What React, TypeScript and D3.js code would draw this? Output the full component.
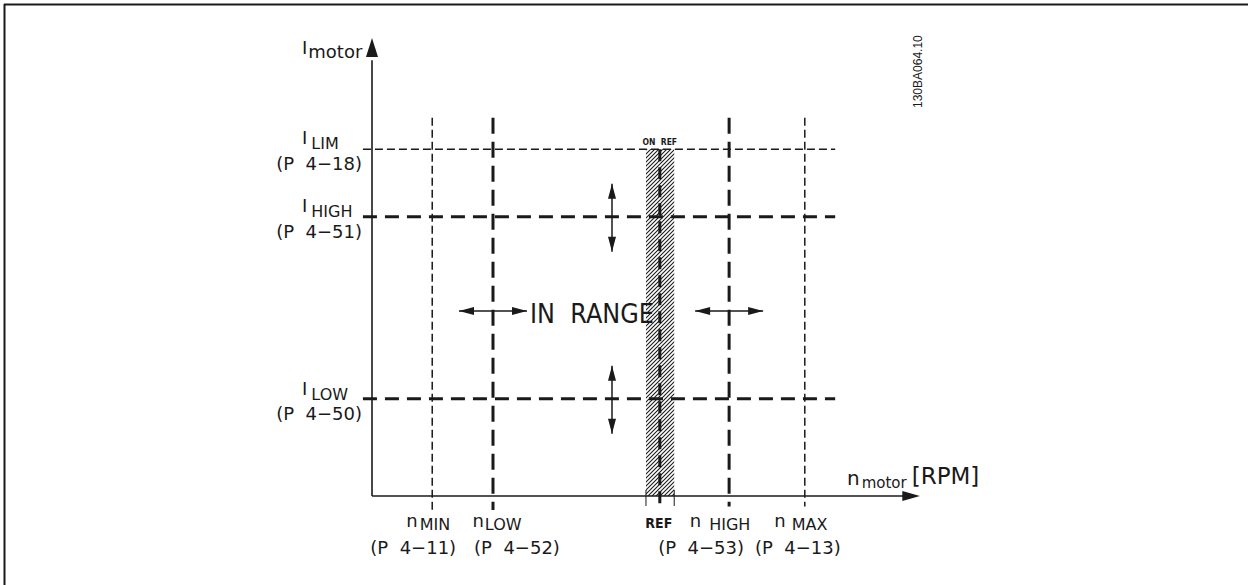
import { useEffect, useRef } from "react";
import * as d3 from "d3";

// current thresholds (y axis, % of axis height)
const currentNames = ["LIM", "HIGH", "LOW"];
const currentValues = [76.4, 61.5, 21.4];
const currentParams = ["(P  4−18)", "(P  4−51)", "(P  4−50)"];

// speed thresholds (x axis, % of axis width)
const speedNames = ["MIN", "LOW", "REF", "HIGH", "MAX"];
const speedValues = [11.3, 22.7, 54.0, 67.0, 81.2];
const speedParams = ["(P  4−11)", "(P  4−52)", "", "(P  4−53)", "(P  4−13)"];
const refBand = [51.4, 56.7];

const W = 1248;
const H = 585;
const FONT = "'DejaVu Sans', sans-serif";
const COND = "'DejaVu Sans Condensed', 'DejaVu Sans', sans-serif";
const INK = "#1a1a1a";

export default function App() {
  const svgRef = useRef<SVGSVGElement>(null);

  useEffect(() => {
    document.body.style.margin = "0";
    if (!svgRef.current) return;
    const svg = d3.select(svgRef.current);
    svg.selectAll("*").remove();

    const x = d3.scaleLinear().domain([0, 100]).range([372, 905]);
    const y = d3.scaleLinear().domain([0, 100]).range([496, 42]);

    // frame
    svg.append("line").attr("x1", 4).attr("x2", W).attr("y1", 4.5).attr("y2", 4.5)
      .attr("stroke", INK).attr("stroke-width", 2);
    svg.append("line").attr("x1", 4.5).attr("x2", 4.5).attr("y1", 4).attr("y2", H)
      .attr("stroke", INK).attr("stroke-width", 2);

    const defs = svg.append("defs");
    const pat = defs.append("pattern").attr("id", "hatch")
      .attr("patternUnits", "userSpaceOnUse").attr("width", 4).attr("height", 4);
    pat.append("path").attr("d", "M-1,1 l2,-2 M0,4 l4,-4 M3,5 l2,-2")
      .attr("stroke", INK).attr("stroke-width", 1.1);

    const thin = "8,4";
    const thick = "14,8";
    const thickSet = new Set(["HIGH", "LOW", "REF"]);

    // ref band
    svg.append("rect")
      .attr("x", x(refBand[0])).attr("width", x(refBand[1]) - x(refBand[0]))
      .attr("y", y(currentValues[0])).attr("height", y(0) - y(currentValues[0]))
      .attr("fill", "url(#hatch)");
    refBand.forEach((v) => {
      svg.append("line").attr("x1", x(v)).attr("x2", x(v))
        .attr("y1", y(0) - 6).attr("y2", y(-2.2))
        .attr("stroke", INK).attr("stroke-width", 1);
    });

    // horizontal current lines
    currentNames.forEach((n, i) => {
      const th = thickSet.has(n);
      svg.append("line")
        .attr("x1", x(-1.7)).attr("x2", x(86.9))
        .attr("y1", y(currentValues[i])).attr("y2", y(currentValues[i]))
        .attr("stroke", INK)
        .attr("stroke-width", th ? 3 : 1.5)
        .attr("stroke-dasharray", th ? thick : thin);
    });

    // vertical speed lines
    speedNames.forEach((n, i) => {
      const th = thickSet.has(n);
      const top = n === "REF" ? currentValues[0] : 83.3;
      const bot = n === "MIN" || n === "LOW" ? -3.1 : -2.3;
      svg.append("line")
        .attr("x1", x(speedValues[i])).attr("x2", x(speedValues[i]))
        .attr("y1", y(top)).attr("y2", y(bot))
        .attr("stroke", INK)
        .attr("stroke-width", th ? 3 : 1.5)
        .attr("stroke-dasharray", n === "REF" ? "12,6" : th ? "16,8" : thin);
    });

    // axes
    svg.append("line").attr("x1", x(0)).attr("x2", x(0))
      .attr("y1", y(0)).attr("y2", y(96)).attr("stroke", INK).attr("stroke-width", 1.6);
    svg.append("line").attr("x1", x(0)).attr("x2", x(100))
      .attr("y1", y(0)).attr("y2", y(0)).attr("stroke", INK).attr("stroke-width", 1.6);
    svg.append("path")
      .attr("d", `M${x(0)},${y(100.9)} L${x(0) - 6},${y(96.7)} L${x(0) + 6},${y(96.7)} Z`)
      .attr("fill", INK);
    svg.append("path")
      .attr("d", `M${x(102.8)},${y(0)} L${x(99.5)},${y(0) - 5} L${x(99.5)},${y(0) + 5} Z`)
      .attr("fill", INK);

    // double arrows
    const arrow = (x1: number, y1: number, x2: number, y2: number) => {
      const g = svg.append("g");
      g.append("line").attr("x1", x1).attr("y1", y1).attr("x2", x2).attr("y2", y2)
        .attr("stroke", INK).attr("stroke-width", 1.5);
      const ang = Math.atan2(y2 - y1, x2 - x1);
      const head = (px: number, py: number, a: number) => {
        const L = 15, w = 4;
        const bx = px - L * Math.cos(a), by = py - L * Math.sin(a);
        const nx = -Math.sin(a) * w, ny = Math.cos(a) * w;
        g.append("path")
          .attr("d", `M${px},${py} L${bx + nx},${by + ny} L${bx - nx},${by - ny} Z`)
          .attr("fill", INK);
      };
      head(x2, y2, ang);
      head(x1, y1, ang + Math.PI);
    };
    const midY = 311;
    [1, 3].forEach((i) => {
      const cx = x(speedValues[i]);
      arrow(cx - 34, midY, cx + 34, midY);
    });
    [1, 2].forEach((i) => {
      const cy = y(currentValues[i]);
      arrow(612, cy - 33, 612, cy + 35);
    });

    // IN RANGE
    svg.append("text").attr("x", 530).attr("y", midY + 12)
      .attr("font-family", FONT).attr("font-size", 26)
      .attr("fill", INK)
      .attr("textLength", 124).attr("lengthAdjust", "spacingAndGlyphs")
      .style("white-space", "pre").text("IN  RANGE");

    // y labels
    const iSub = (tx: number, ty: number, sub: string, dx: number, subDy: number, subSize: number) => {
      const t = svg.append("text").attr("x", tx).attr("y", ty)
        .attr("font-family", FONT).attr("fill", INK).style("white-space", "pre");
      t.append("tspan").attr("font-size", 18).text("I");
      t.append("tspan").attr("font-size", subSize).attr("dx", dx).attr("dy", subDy).text(sub);
    };
    iSub(302, 54, "motor", 1, 4, 18);
    const iLabelDy: Record<string, number> = { LIM: -5, HIGH: -5, LOW: -4 };
    currentNames.forEach((n, i) => {
      const cy = y(currentValues[i]);
      iSub(302, cy + iLabelDy[n], n, 4, 5, 16);
      svg.append("text").attr("x", 362).attr("y", cy + 21)
        .attr("text-anchor", "end").attr("font-family", FONT).attr("font-size", 18)
        .attr("fill", INK).style("white-space", "pre").text(currentParams[i]);
    });

    // x labels
    const off: Record<string, { n: number; p: number; gap: number }> = {
      MIN: { n: -4, p: -19, gap: 2 },
      LOW: { n: 4, p: 24, gap: 1 },
      HIGH: { n: -9, p: -28, gap: 8 },
      MAX: { n: -4, p: -7, gap: 6 },
    };
    speedNames.forEach((n, i) => {
      const cx = x(speedValues[i]);
      if (n === "REF") {
        svg.append("text").attr("x", cx - 1).attr("y", y(0) + 32)
          .attr("text-anchor", "middle").attr("font-family", COND)
          .attr("font-weight", "bold").attr("font-size", 14).attr("fill", INK).text("REF");
        return;
      }
      const o = off[n];
      const t = svg.append("text").attr("x", cx + o.n).attr("y", y(0) + 31)
        .attr("text-anchor", "middle").attr("font-family", FONT).attr("fill", INK);
      t.append("tspan").attr("font-size", 18).text("n");
      t.append("tspan").attr("font-size", 16).attr("dx", o.gap).attr("dy", 3).text(n);
      svg.append("text").attr("x", cx + o.p).attr("y", y(0) + 58)
        .attr("text-anchor", "middle").attr("font-family", FONT).attr("font-size", 18)
        .attr("fill", INK).style("white-space", "pre").text(speedParams[i]);
    });

    // ON REF
    svg.append("text").attr("x", x(speedValues[2])).attr("y", y(currentValues[0]) - 4)
      .attr("text-anchor", "middle").attr("font-family", COND)
      .attr("font-weight", "bold").attr("font-size", 8.5).attr("fill", INK)
      .style("white-space", "pre").text("ON  REF");

    // n motor [RPM]
    const nm = svg.append("text").attr("x", 847).attr("y", 485)
      .attr("font-family", FONT).attr("fill", INK);
    nm.append("tspan").attr("font-size", 20).text("n");
    nm.append("tspan").attr("font-size", 15).attr("dx", 2).attr("dy", 3).text("motor");
    nm.append("tspan").attr("font-size", 23).attr("dx", 5).attr("dy", -4).text("[RPM]");

    // drawing number
    svg.append("text")
      .attr("transform", "translate(922,108) rotate(-90)")
      .attr("font-family", "'Liberation Sans', Arial, sans-serif")
      .attr("font-size", 12).attr("fill", INK)
      .text("130BA064.10");
  }, []);

  return (
    <svg
      ref={svgRef}
      width={W}
      height={H}
      style={{ position: "absolute", left: 0, top: 0, background: "#fff" }}
    />
  );
}
